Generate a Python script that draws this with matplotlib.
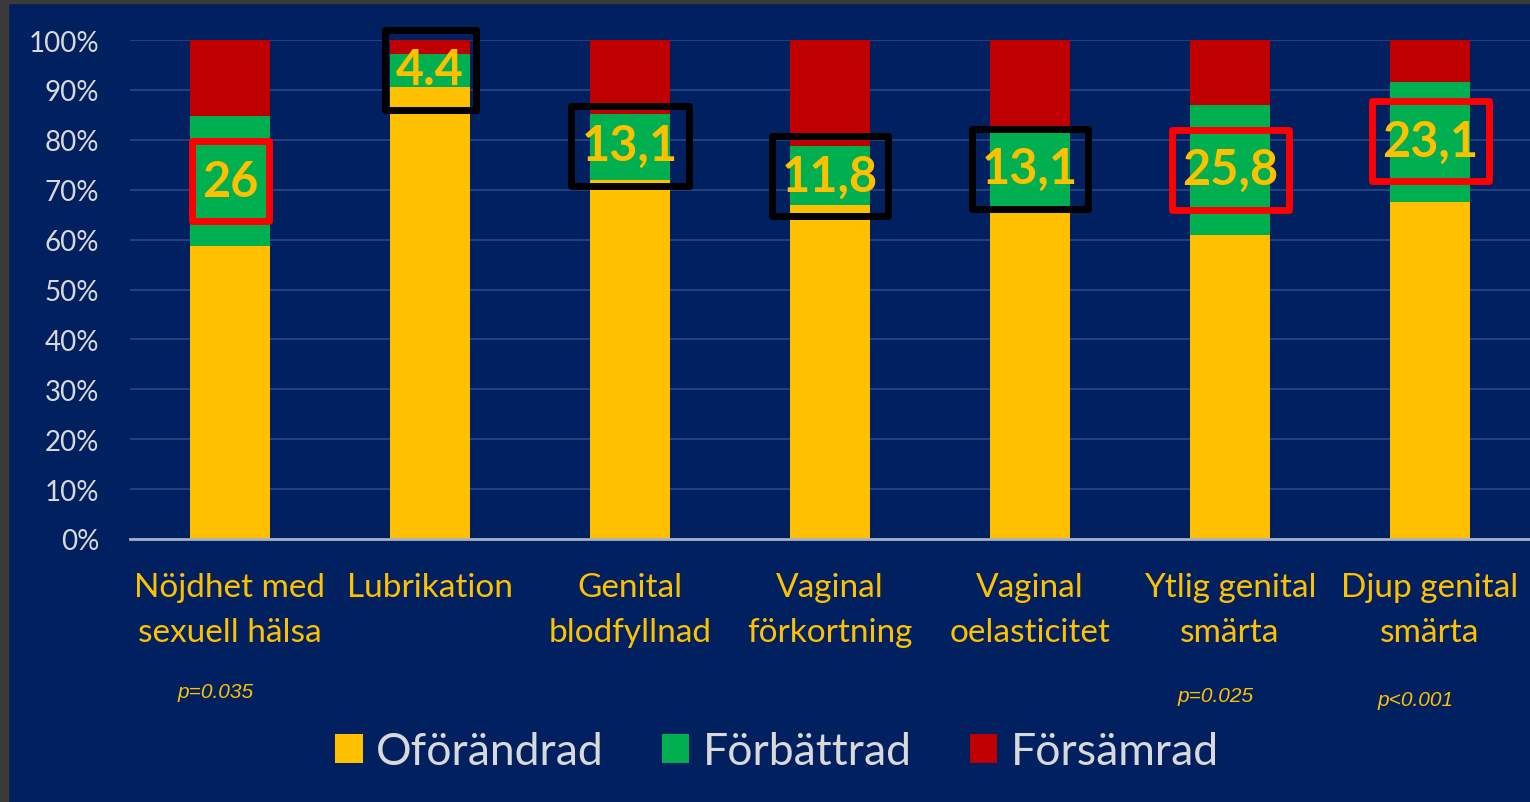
import matplotlib
matplotlib.use("Agg")
import matplotlib.pyplot as plt
from matplotlib.patches import Rectangle
from matplotlib.transforms import blended_transform_factory
import numpy as np

# ----------------------------------------------------------------------
# Data
# ----------------------------------------------------------------------
categories = [
    "Nöjdhet med\nsexuell hälsa",
    "Lubrikation",
    "Genital\nblodfyllnad",
    "Vaginal\nförkortning",
    "Vaginal\noelasticitet",
    "Ytlig genital\nsmärta",
    "Djup genital\nsmärta",
]
oforandrad = [58.7, 90.6, 72.0, 66.9, 66.2, 61.0, 67.6]
forbattrad = [26.1, 6.6, 13.1, 11.8, 15.4, 25.9, 24.0]
forsamrad = [15.2, 2.8, 14.9, 21.3, 18.4, 13.1, 8.4]
series_names = ["Oförändrad", "Förbättrad", "Försämrad"]

box_labels = ["26", "4.4", "13,1", "11,8", "13,1", "25,8", "23,1"]
box_is_sig = [True, False, False, False, False, True, True]
p_labels = {0: "p=0.035", 5: "p=0.025", 6: "p<0.001"}

# ----------------------------------------------------------------------
# Style / layout
# ----------------------------------------------------------------------
NAVY = "#002060"
YELLOW = "#FFC000"
GREEN = "#00B050"
RED = "#C00000"
GREY_TXT = "#D9D9D9"
plt.rcParams["font.family"] = ["Lato", "DejaVu Sans"]

W, H = 1530, 803
fig = plt.figure(figsize=(W / 100, H / 100), dpi=100, facecolor=NAVY)

# dark grey frame strips at left and top of the screenshot
fig.patches.append(Rectangle((0, 0), 8 / W, 1, transform=fig.transFigure,
                             color="#3A3A3A", zorder=0))
fig.patches.append(Rectangle((0, 1 - 4 / H), 1, 4 / H, transform=fig.transFigure,
                             color="#3A3A3A", zorder=0))

ax = fig.add_axes([130 / W, (H - 540) / H, 1400 / W, 499 / H])
ax.set_facecolor(NAVY)

x = np.arange(len(categories))
bw = 0.4
ax.bar(x, oforandrad, bw, color=YELLOW, label=series_names[0], zorder=2)
ax.bar(x, forbattrad, bw, bottom=oforandrad, color=GREEN,
       label=series_names[1], zorder=2)
bottom2 = np.array(oforandrad) + np.array(forbattrad)
ax.bar(x, forsamrad, bw, bottom=bottom2, color=RED,
       label=series_names[2], zorder=2)

ax.set_xlim(-0.5, len(categories) - 0.5)
ax.set_ylim(0, 100)
ax.set_yticks(np.arange(0, 101, 10))
ax.set_yticklabels([f"{v}%" for v in range(0, 101, 10)])
ax.tick_params(axis="y", length=0, pad=22, labelsize=20, labelcolor=GREY_TXT)
ax.set_xticks(x)
ax.set_xticklabels(categories)
ax.tick_params(axis="x", length=0, pad=24, labelsize=24, labelcolor=YELLOW)
for lbl in ax.get_xticklabels():
    lbl.set_linespacing(1.6)

ax.grid(axis="y", color="#2A4784", linewidth=1.2, zorder=0)
ax.set_axisbelow(True)
for side in ["top", "right", "left"]:
    ax.spines[side].set_visible(False)
ax.spines["bottom"].set_color("#A6B0C8")
ax.spines["bottom"].set_linewidth(2)
ax.spines["bottom"].set_zorder(3)

# highlight boxes with the improvement figure
box_centres = [71.7, 94.0, 78.8, 72.7, 74.2, 74.0, 79.7]
box_widths = [0.385, 0.455, 0.59, 0.58, 0.58, 0.585, 0.585]
box_h = 16.0
for i, txt in enumerate(box_labels):
    ec = "#FF0000" if box_is_sig[i] else "#000000"
    bxw = box_widths[i]
    ax.add_patch(Rectangle((x[i] - bxw / 2, box_centres[i] - box_h / 2), bxw, box_h,
                           fill=False, edgecolor=ec, linewidth=5,
                           joinstyle="round", zorder=4, clip_on=False))
    ax.text(x[i], box_centres[i], txt, ha="center", va="center",
            fontsize=35, fontweight="bold", color=YELLOW, zorder=5)

# p-values under the category labels
trans = blended_transform_factory(ax.transData, fig.transFigure)
p_y = {0: 693, 5: 697, 6: 701}
for i, txt in p_labels.items():
    ax.text(x[i] - 0.07, 1 - p_y[i] / H, txt, transform=trans,
            ha="center", va="center", fontsize=15, fontstyle="italic",
            color=YELLOW,
            family=["Liberation Sans Narrow", "Liberation Sans", "DejaVu Sans"])

handles, labels = ax.get_legend_handles_labels()
leg = fig.legend(handles, labels, loc="center", bbox_to_anchor=(777 / W, 1 - 753 / H),
                 ncol=3, frameon=False, fontsize=32, handlelength=0.62,
                 handleheight=0.62, handletextpad=0.3, columnspacing=1.3)
for t in leg.get_texts():
    t.set_color(GREY_TXT)

fig.savefig("out.png", dpi=100, facecolor=fig.get_facecolor())
